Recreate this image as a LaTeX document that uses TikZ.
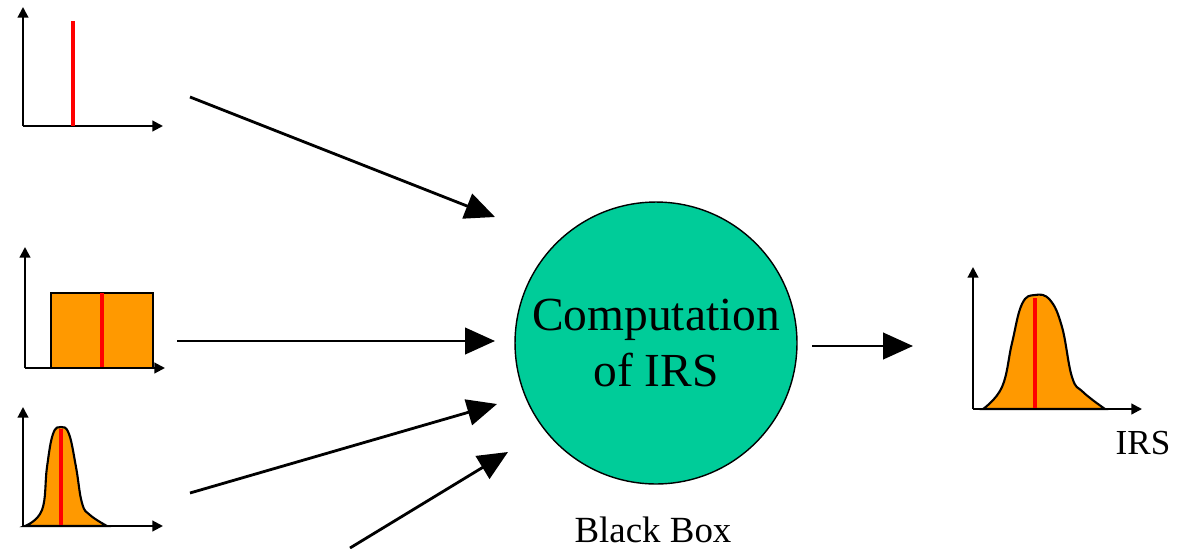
\documentclass[tikz,border=0pt]{standalone}
\usepackage{fontspec}
\setmainfont{Liberation Serif}
\usetikzlibrary{arrows.meta}
\definecolor{irsgreen}{HTML}{00CC99}
\definecolor{irsorange}{HTML}{FF9900}

\begin{document}
\begin{tikzpicture}[x=0.02cm, y=-0.02cm,
  axis/.style={black, line width=1.2pt, -{Triangle[length=6pt,width=6pt]}},
  flow/.style={black, line width=1.6pt, -{Triangle[length=17pt,width=15pt]}},
  mean/.style={red, line width=2.8pt},
  dist/.style={fill=irsorange, draw=black, line width=1.2pt}]
\useasboundingbox (0,0) rectangle (1179,548);

% input 1: single value
\coordinate (o1) at (23,126);
\draw[axis] (o1) -- ++(0,-119);
\draw[axis] (o1) -- ++(140,0);
\draw[mean] (73,21) -- (73,126);

% input 2: uniform
\coordinate (o2) at (25,368);
\draw[dist] (51,293) rectangle (153,368);
\draw[mean] (102,293) -- (102,368);
\draw[axis] (o2) -- ++(0,-121);
\draw[axis] (o2) -- ++(140,0);

% input 3: narrow peak
\coordinate (o3) at (23,526);
\draw[dist] plot[smooth, tension=0.7] coordinates {(25,526) (42,510) (47,467) (53,434) (61,427)
  (69,434) (76,467) (82,503) (90,515) (107,526)} -- cycle;
\draw[mean] (61,429) -- (61,526);
\draw[axis] (o3) -- ++(0,-119);
\draw[axis] (o3) -- ++(140,0);

% output
\coordinate (o4) at (973,409);
\draw[dist] plot[smooth, tension=0.7] coordinates {(983,409) (1002,387) (1012,343) (1022,304) (1035,295)
  (1050,300) (1062,327) (1072,377) (1083,392) (1105,409)} -- cycle;
\draw[mean] (1035,298) -- (1035,409);
\draw[axis] (o4) -- ++(0,-142);
\draw[axis] (o4) -- ++(169,0);

% black box
\node[circle, draw=black, line width=0.8pt, fill=irsgreen, minimum size=5.64cm,
  align=center, font=\fontsize{27}{32}\selectfont] (irs) at (656,343) {Computation\\of IRS};
\node[font=\fontsize{21}{24}\selectfont, inner sep=1pt] (bb) at (653,530) {Black Box};
\node[font=\fontsize{20}{24}\selectfont] (lbl) at (1143,443) {IRS};

% arrows
\coordinate (s1) at (190,97);   \coordinate (e1) at (495,217);
\coordinate (s2) at (177,341);  \coordinate (e2) at (495,341);
\coordinate (s3) at (190,493);  \coordinate (e3) at (497,404);
\coordinate (s4) at (350,548);  \coordinate (e4) at (508,452);
\coordinate (s5) at (812,346);  \coordinate (e5) at (913,346);
\draw[flow] (s1) -- (e1);
\draw[flow] (s2) -- (e2);
\draw[flow] (s3) -- (e3);
\draw[flow] (s4) -- (e4);
\draw[flow] (s5) -- (e5);
\end{tikzpicture}
\end{document}
